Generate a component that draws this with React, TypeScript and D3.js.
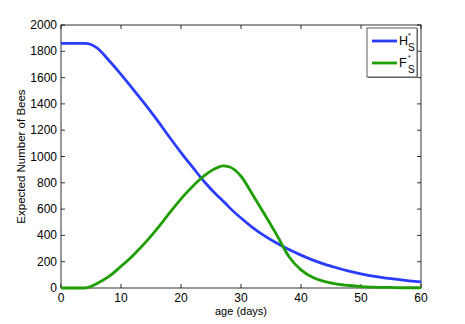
import * as d3 from "d3";
import { useEffect, useRef } from "react";

const days = [0, 2, 4, 5, 6, 8, 10, 12, 14, 16, 18, 20, 22, 24, 26, 27, 28, 30, 32, 34, 36, 38, 40, 42, 44, 46, 48, 50, 52, 55, 58, 60];
const hives = [1860, 1860, 1860, 1852, 1826, 1730, 1625, 1512, 1398, 1278, 1152, 1030, 915, 802, 705, 662, 615, 532, 458, 394, 340, 292, 250, 212, 180, 153, 128, 108, 91, 71, 55, 46];
const foragers = [0, 0, 0, 12, 34, 88, 165, 248, 343, 450, 565, 678, 776, 858, 914, 928, 922, 850, 705, 555, 400, 238, 138, 80, 48, 30, 19, 11, 7, 4, 2, 2];
const xTicks = [0, 10, 20, 30, 40, 50, 60];
const yTicks = [0, 200, 400, 600, 800, 1000, 1200, 1400, 1600, 1800, 2000];

function drawChart(svgElement: SVGSVGElement) {
  const width = 465;
  const height = 324;
  const margin = { top: 25, right: 44, bottom: 36, left: 61 };
  const svg = d3.select(svgElement);
  svg.selectAll("*").remove();
  svg.attr("width", width).attr("height", height).style("font-family", "'Liberation Sans', Arial, sans-serif");

  const x = d3.scaleLinear().domain([0, 60]).range([margin.left, width - margin.right]);
  const y = d3.scaleLinear().domain([0, 2000]).range([height - margin.bottom, margin.top]);
  const tick = 4;

  // box + inward ticks on all four sides
  svg
    .append("rect")
    .attr("x", x(0))
    .attr("y", y(2000))
    .attr("width", x(60) - x(0))
    .attr("height", y(0) - y(2000))
    .attr("fill", "none")
    .attr("stroke", "#000")
    .attr("stroke-width", 0.8);

  const ticks = svg.append("g").attr("stroke", "#000").attr("stroke-width", 0.8);
  xTicks.forEach((t) => {
    ticks.append("line").attr("x1", x(t)).attr("x2", x(t)).attr("y1", y(0)).attr("y2", y(0) - tick);
    ticks.append("line").attr("x1", x(t)).attr("x2", x(t)).attr("y1", y(2000)).attr("y2", y(2000) + tick);
  });
  yTicks.forEach((t) => {
    ticks.append("line").attr("x1", x(0)).attr("x2", x(0) + tick).attr("y1", y(t)).attr("y2", y(t));
    ticks.append("line").attr("x1", x(60)).attr("x2", x(60) - tick).attr("y1", y(t)).attr("y2", y(t));
  });

  svg
    .append("g")
    .selectAll("text")
    .data(xTicks)
    .join("text")
    .attr("x", (d) => x(d))
    .attr("y", y(0) + 14)
    .attr("text-anchor", "middle")
    .attr("font-size", 12)
    .text((d) => d);

  svg
    .append("g")
    .selectAll("text")
    .data(yTicks)
    .join("text")
    .attr("x", x(0) - 4)
    .attr("y", (d) => y(d) + 4)
    .attr("text-anchor", "end")
    .attr("font-size", 12)
    .text((d) => d);

  svg
    .append("text")
    .attr("x", (x(0) + x(60)) / 2)
    .attr("y", 315)
    .attr("text-anchor", "middle")
    .attr("font-size", 11)
    .text("age (days)");

  svg
    .append("text")
    .attr("transform", `translate(25,${(y(0) + y(2000)) / 2}) rotate(-90)`)
    .attr("text-anchor", "middle")
    .attr("font-size", 11.5)
    .text("Expected Number of Bees");

  const line = (vals: number[]) =>
    d3
      .line<number>()
      .x((_, i) => x(days[i]))
      .y((d) => y(d))
      .curve(d3.curveMonotoneX)(vals);

  const series = [
    { vals: hives, color: "#2a3dff", label: "H" },
    { vals: foragers, color: "#1e9e00", label: "F" },
  ];

  series.forEach((s) => {
    svg
      .append("path")
      .attr("d", line(s.vals))
      .attr("fill", "none")
      .attr("stroke", s.color)
      .attr("stroke-width", 2.8)
      .attr("stroke-linejoin", "round");
  });

  // legend
  const lg = svg.append("g");
  lg.append("rect").attr("x", 368).attr("y", 29).attr("width", 50).attr("height", 49).attr("fill", "#888");
  lg.append("rect")
    .attr("x", 367)
    .attr("y", 28)
    .attr("width", 50)
    .attr("height", 49)
    .attr("fill", "#fff")
    .attr("stroke", "#333")
    .attr("stroke-width", 0.8);
  series.forEach((s, i) => {
    const ly = 41 + i * 22;
    lg.append("line")
      .attr("x1", 372)
      .attr("x2", 397)
      .attr("y1", ly)
      .attr("y2", ly)
      .attr("stroke", s.color)
      .attr("stroke-width", 2.8);
    lg.append("text").attr("x", 399).attr("y", ly + 4).attr("font-size", 12.5).text(s.label);
    lg.append("text").attr("x", 408).attr("y", ly - 3).attr("font-size", 7).text("*");
    lg.append("text").attr("x", 408).attr("y", ly + 10).attr("font-size", 10).text("S");
  });
}

export default function App() {
  const ref = useRef<SVGSVGElement>(null);
  useEffect(() => {
    if (ref.current) drawChart(ref.current);
  }, []);
  return <svg ref={ref} style={{ position: "absolute", left: 0, top: 0 }} />;
}
